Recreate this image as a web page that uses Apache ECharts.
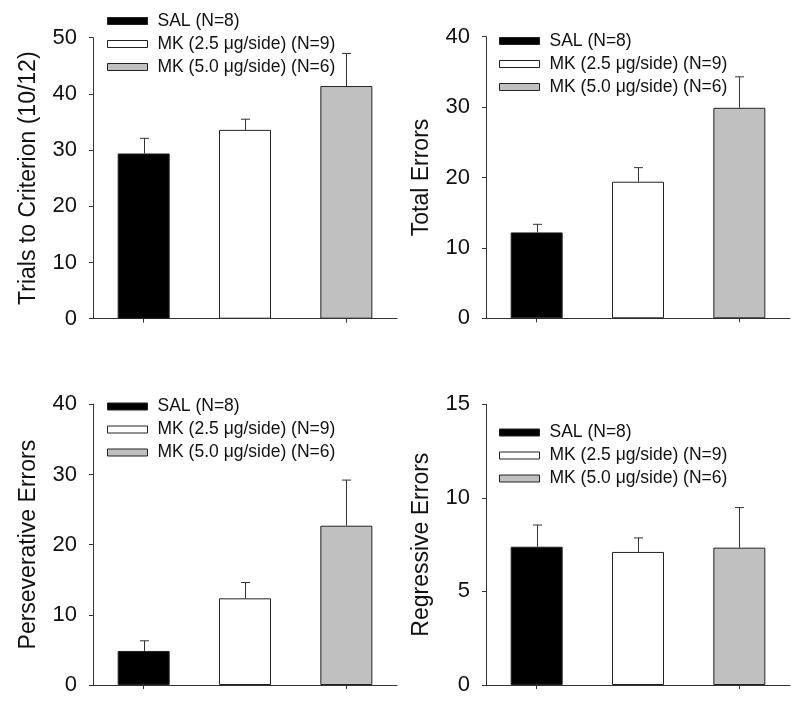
<!DOCTYPE html>
<html>
<head>
<meta charset="utf-8">
<script src="https://cdn.jsdelivr.net/npm/echarts@6/dist/echarts.min.js"></script>
<style>
html,body{margin:0;padding:0;background:#fff;}
#chart{width:800px;height:706px;}
</style>
</head>
<body>
<div id="chart"></div>
<script>
// ---- data ----
var groups = ['SAL (N=8)', 'MK (2.5 \u03bcg/side) (N=9)', 'MK (5.0 \u03bcg/side) (N=6)'];
var groupColors = ['#000000', '#ffffff', '#c0c0c0'];

var trialsMean = [29.4, 33.6, 41.4];
var trialsSem  = [2.7, 1.9, 5.8];

var totalMean = [12.2, 19.4, 29.9];
var totalSem  = [1.15, 2.0, 4.4];

var persevMean = [4.85, 12.35, 22.7];
var persevSem  = [1.45, 2.25, 6.5];

var regressMean = [7.39, 7.11, 7.34];
var regressSem  = [1.16, 0.75, 2.14];

var panelTitles = ['Trials to Criterion (10/12)', 'Total Errors', 'Perseverative Errors', 'Regressive Errors'];
var panelMax = [50, 40, 40, 15];
var panelInterval = [10, 10, 10, 5];
var panelMeans = [trialsMean, totalMean, persevMean, regressMean];
var panelSems = [trialsSem, totalSem, persevSem, regressSem];

// ---- layout ----
var grids = [
  {left: 93, top: 37.7, width: 304, height: 281},
  {left: 486, top: 36.7, width: 304, height: 281.6},
  {left: 93, top: 404.3, width: 304, height: 280.7},
  {left: 486, top: 404.3, width: 304, height: 280.7}
];
var legendPos = [
  {left: 107, top: 10},
  {left: 499, top: 30},
  {left: 107, top: 395.5},
  {left: 499, top: 421.5}
];

var FONT = 'Liberation Sans, Arial, sans-serif';
var AX = '#333';

var option = {
  animation: false,
  backgroundColor: '#fff',
  textStyle: {fontFamily: FONT},
  grid: [], xAxis: [], yAxis: [], series: [], legend: []
};

for (var p = 0; p < 4; p++) {
  option.grid.push(Object.assign({containLabel: false}, grids[p]));
  option.xAxis.push({
    type: 'category', gridIndex: p, data: groups,
    axisLine: {lineStyle: {color: AX, width: 1}},
    axisTick: {show: true, alignWithLabel: true, length: 4, lineStyle: {color: AX}},
    axisLabel: {show: false},
    splitLine: {show: false}
  });
  option.yAxis.push({
    type: 'value', gridIndex: p, min: 0, max: panelMax[p], interval: panelInterval[p],
    name: panelTitles[p], nameLocation: 'middle', nameGap: 53,
    nameTextStyle: {fontSize: 23, color: '#111', fontFamily: FONT},
    axisLine: {show: true, lineStyle: {color: AX, width: 1}},
    axisTick: {show: true, length: 4, lineStyle: {color: AX}},
    axisLabel: {fontSize: 22, color: '#111', margin: 16, fontFamily: FONT},
    splitLine: {show: false}
  });
  for (var g = 0; g < 3; g++) {
    var d = [null, null, null];
    d[g] = panelMeans[p][g];
    option.series.push({
      type: 'bar', name: groups[g], xAxisIndex: p, yAxisIndex: p,
      data: d, barWidth: 52, barGap: '-100%',
      itemStyle: {color: groupColors[g], borderColor: '#222', borderWidth: 1},
      z: 2
    });
  }
  (function (means, sems, idx) {
    var errData = means.map(function (m, i) { return [i, m, sems[i]]; });
    option.series.push({
      type: 'custom', name: 'err' + idx, xAxisIndex: idx, yAxisIndex: idx,
      data: errData, z: 3,
      renderItem: function (params, api) {
        var x = api.value(0), m = api.value(1), s = api.value(2);
        var pb = api.coord([x, m]);
        var pt = api.coord([x, m + s]);
        var cx = Math.round(pb[0]) + 0.5;
        var st = {stroke: '#333', lineWidth: 1};
        return {
          type: 'group',
          children: [
            {type: 'line', shape: {x1: cx, y1: pb[1], x2: cx, y2: pt[1]}, style: st},
            {type: 'line', shape: {x1: cx - 4.5, y1: pt[1], x2: cx + 4.5, y2: pt[1]}, style: st}
          ]
        };
      }
    });
  })(panelMeans[p], panelSems[p], p);

  option.legend.push({
    left: legendPos[p].left, top: legendPos[p].top,
    orient: 'vertical', data: groups,
    icon: 'rect', itemWidth: 40, itemHeight: 7, itemGap: 1,
    selectedMode: false, padding: 0,
    itemStyle: {borderColor: '#222', borderWidth: 1},
    textStyle: {fontSize: 17.5, color: '#111', fontFamily: FONT, lineHeight: 22, padding: [0, 0, 0, 5]}
  });
}

var chart = echarts.init(document.getElementById('chart'), null, {renderer: 'canvas'});
chart.setOption(option);
</script>
</body>
</html>
